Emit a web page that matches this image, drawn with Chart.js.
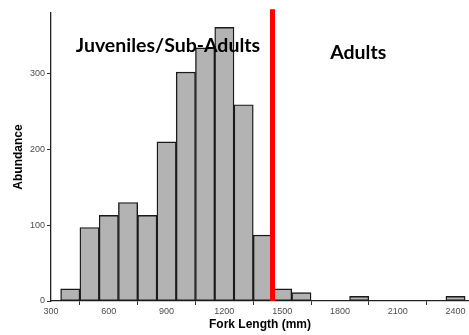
<!DOCTYPE html>
<html>
<head>
<meta charset="utf-8">
<script src="https://cdn.jsdelivr.net/npm/chart.js@4.4.1/dist/chart.umd.min.js"></script>
<style>
  html, body { margin: 0; padding: 0; background: #fff; }
  #wrap { width: 469px; height: 335px; }
</style>
</head>
<body>
<div id="wrap"><canvas id="chart" width="469" height="335"></canvas></div>
<script>
// histogram bins (mid point of each 100 mm bin) and their counts
const binMids = [400, 500, 600, 700, 800, 900, 1000, 1100, 1200, 1300, 1400, 1500, 1600, 1900, 2400];
const counts  = [16, 97, 113, 130, 113, 210, 302, 334, 361, 259, 87, 16, 11, 6, 6];

// tick labels
const xTicks = [300, 600, 900, 1200, 1500, 1800, 2100, 2400];
const yTicks = [0, 100, 200, 300];

// cut-off between juveniles and adults
const adultCutoff = 1450;
const cutoffTop = 385;

// group labels written on the plot
const groupLabels = ["Juveniles/Sub-Adults", "Adults"];
const groupLabelX = [907, 1895];
const groupLabelY = [329, 319];

const axisFont = "'Liberation Sans', Arial, sans-serif";

const groupLabelPlugin = {
  id: "groupLabels",
  afterDatasetsDraw(chart) {
    const ctx = chart.ctx;
    const xs = chart.scales.x, ys = chart.scales.y;
    ctx.save();
    ctx.fillStyle = "#000";
    ctx.font = "bold 19.5px Lato, 'Open Sans', sans-serif";
    ctx.textAlign = "center";
    ctx.textBaseline = "alphabetic";
    groupLabels.forEach((txt, i) => {
      ctx.fillText(txt, xs.getPixelForValue(groupLabelX[i]), ys.getPixelForValue(groupLabelY[i]));
    });
    ctx.restore();
  }
};

new Chart(document.getElementById("chart"), {
  type: "bar",
  data: {
    datasets: [
      {
        type: "line",
        data: [{x: adultCutoff, y: 0}, {x: adultCutoff, y: cutoffTop}],
        borderColor: "#ff0000",
        borderWidth: 5,
        pointRadius: 0,
        clip: false,
        order: 0
      },
      {
        data: binMids.map((m, i) => ({x: m, y: counts[i]})),
        backgroundColor: "#b3b3b3",
        borderColor: "#1a1a1a",
        borderWidth: 1.4,
        borderSkipped: false,
        barPercentage: 1,
        categoryPercentage: 1,
        order: 1
      }
    ]
  },
  options: {
    responsive: false,
    animation: false,
    layout: { padding: { top: 13, right: 0, left: 0, bottom: 0 } },
    plugins: { legend: { display: false }, tooltip: { enabled: false } },
    scales: {
      x: {
        type: "linear",
        offset: false,
        min: 300,
        max: 2470,
        afterBuildTicks(scale) { scale.ticks = xTicks.map(v => ({value: v})); },
        afterFit(scale) { scale.height = 34; },
        grid: { drawOnChartArea: false, drawTicks: true, tickLength: 4, color: "#333" },
        border: { display: true, color: "#222", width: 1.3 },
        ticks: {
          maxRotation: 0,
          autoSkip: false,
          padding: 1,
          color: "#4d4d4d",
          font: { family: axisFont, size: 9 },
          callback: v => String(v)
        },
        title: {
          display: true,
          text: "Fork Length (mm)",
          color: "#000",
          padding: { top: 0, bottom: 3 },
          font: { family: axisFont, size: 12, weight: "bold" }
        }
      },
      y: {
        min: 0,
        max: 380,
        afterBuildTicks(scale) { scale.ticks = yTicks.map(v => ({value: v})); },
        afterFit(scale) { scale.width = 51; },
        grid: { drawOnChartArea: false, drawTicks: true, tickLength: 4, color: "#333" },
        border: { display: true, color: "#222", width: 1.3 },
        ticks: {
          padding: 2,
          color: "#4d4d4d",
          font: { family: axisFont, size: 9 },
          callback: v => String(v)
        },
        title: {
          display: true,
          text: "Abundance",
          color: "#000",
          padding: { top: 11, bottom: 0 },
          font: { family: axisFont, size: 12, weight: "bold" }
        }
      }
    }
  },
  plugins: [groupLabelPlugin]
});
</script>
</body>
</html>
